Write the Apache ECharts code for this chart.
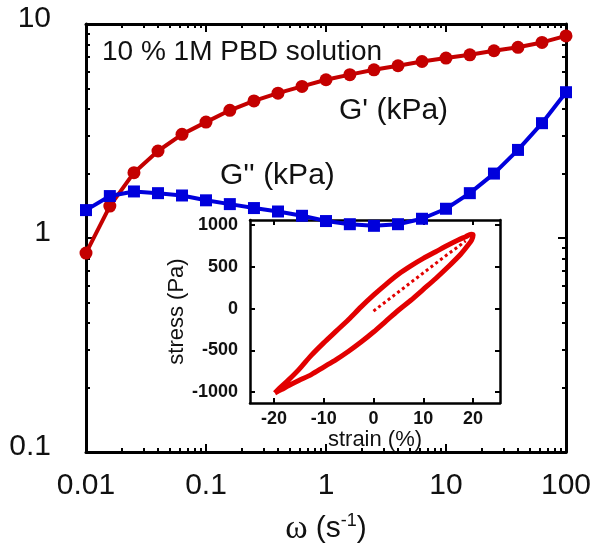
<!DOCTYPE html>
<html>
<head>
<meta charset="utf-8">
<script src="https://cdn.jsdelivr.net/npm/echarts@6/dist/echarts.min.js"></script>
<style>
  html, body { margin: 0; padding: 0; background: #fff; }
  #chart { width: 590px; height: 544px; }
</style>
</head>
<body>
<div id="chart"></div>
<script>
// frequency sweep, 5 points per decade
const omega = [0.01, 0.0158, 0.0251, 0.0398, 0.0631, 0.1, 0.158, 0.251, 0.398, 0.631,
  1, 1.58, 2.51, 3.98, 6.31, 10, 15.8, 25.1, 39.8, 63.1, 100]
const gPrime = [0.85, 1.41, 2.02, 2.55, 3.05, 3.48, 3.95, 4.37, 4.75, 5.11,
  5.49, 5.8, 6.11, 6.38, 6.68, 6.93, 7.18, 7.5, 7.78, 8.2, 8.8]
const gDouble = [1.35, 1.57, 1.65, 1.62, 1.58, 1.5, 1.44, 1.38, 1.33, 1.27,
  1.2, 1.16, 1.14, 1.16, 1.23, 1.37, 1.62, 2.0, 2.58, 3.44, 4.8]

const xMajor = [0.01, 0.1, 1, 10, 100]
const xMinor = [0.02, 0.03, 0.04, 0.05, 0.06, 0.07, 0.08, 0.09,
  0.2, 0.3, 0.4, 0.5, 0.6, 0.7, 0.8, 0.9,
  2, 3, 4, 5, 6, 7, 8, 9,
  20, 30, 40, 50, 60, 70, 80, 90]
const yMajor = [0.1, 1, 10]
const yMinor = [0.2, 0.3, 0.4, 0.5, 0.6, 0.7, 0.8, 0.9, 2, 3, 4, 5, 6, 7, 8, 9]

// inset: stress-strain loop (Lissajous)
const loopStrain = [-19.8, -19, -17, -15, -12.5, -10, -7.5, -5, -2.5, 0, 2.5, 5, 7.5, 10, 12.5, 15, 17, 18.5, 19.6, 20,
  19.7, 19, 17.5, 15, 12.5, 10, 7.5, 5, 2.5, 0, -2.5, -5, -7.5, -10, -12.5, -15, -17, -18.5, -19.8]
const loopStress = [-1010, -960, -850, -730, -560, -410, -270, -130, 20, 160, 290, 410, 510, 600, 680, 760, 820, 860, 890, 880,
  820, 760, 650, 500, 360, 230, 100, -20, -150, -280, -400, -510, -610, -700, -790, -860, -920, -970, -1010]
const startStrain = [0, 3, 6, 9, 12, 14.7, 17, 18.5]
const startStress = [-30, 107, 244, 381, 518, 641, 740, 810]
const strainTicks = [-20, -10, 0, 10, 20]
const stressTicks = [-1000, -500, 0, 500, 1000]

const font = 'Liberation Sans, Arial, sans-serif'
const red = '#c40000'
const blue = '#0000dc'
const loopRed = '#e20000'

const chart = echarts.init(document.getElementById('chart'), null, { renderer: 'canvas' })

const frame = { show: true, onZero: false, lineStyle: { color: '#000', width: 3 } }
const noLabel = { show: false }

const mainX = (pos, vals, len, showLine, label) => ({
  type: 'log', logBase: 10, gridIndex: 0, min: 0.01, max: 100, position: pos,
  axisLine: showLine ? frame : { show: false },
  axisTick: { show: true, inside: true, length: len, customValues: vals, lineStyle: { color: '#000', width: 2 } },
  axisLabel: label || noLabel,
  splitLine: { show: false },
  minorTick: { show: false },
})
const mainY = (pos, vals, len, showLine, label) => ({
  type: 'log', logBase: 10, gridIndex: 0, min: 0.1, max: 10, position: pos,
  axisLine: showLine ? frame : { show: false },
  axisTick: { show: true, inside: true, length: len, customValues: vals, lineStyle: { color: '#000', width: 2 } },
  axisLabel: label || noLabel,
  splitLine: { show: false },
  minorTick: { show: false },
})

const insetFrame = { show: true, onZero: false, lineStyle: { color: '#000', width: 2.5 } }
const insetTick = vals => ({ show: true, inside: true, length: 5, customValues: vals, lineStyle: { color: '#000', width: 2 } })

chart.setOption({
  animation: false,
  backgroundColor: '#fff',
  textStyle: { fontFamily: font },
  grid: [
    { left: 86, top: 24, width: 480, height: 428, outerBoundsMode: 'none' },
    { left: 250, top: 220, width: 250, height: 183, outerBoundsMode: 'none' },
  ],
  xAxis: [
    Object.assign(mainX('bottom', xMajor, 8, true, {
      show: true, customValues: xMajor, fontSize: 30, color: '#111', margin: 19,
      formatter: v => String(v),
    }), {
      name: '{w|ω} (s{sup|-1})',
      nameLocation: 'middle',
      nameGap: 60,
      nameTextStyle: {
        fontSize: 30, color: '#111',
        rich: {
          w: { fontFamily: 'Liberation Serif, serif', fontSize: 34, color: '#111' },
          sup: { fontSize: 18, color: '#111', verticalAlign: 'top', padding: [0, 0, 12, 0] },
        },
      },
    }),
    mainX('bottom', xMinor, 4, false),
    mainX('top', xMajor, 8, true),
    mainX('top', xMinor, 4, false),
    {
      type: 'value', gridIndex: 1, min: -24.8, max: 25.4, position: 'bottom',
      axisLine: insetFrame, axisTick: insetTick(strainTicks),
      axisLabel: {
        show: true, customValues: strainTicks, fontSize: 18, fontWeight: 'bold', color: '#111', margin: 7,
        formatter: v => String(v),
      },
      splitLine: { show: false },
      name: 'strain (%)', nameLocation: 'middle', nameGap: 26,
      nameTextStyle: { fontSize: 22, color: '#111' },
    },
    {
      type: 'value', gridIndex: 1, min: -24.8, max: 25.4, position: 'top',
      axisLine: insetFrame, axisTick: insetTick(strainTicks),
      axisLabel: noLabel, splitLine: { show: false },
    },
  ],
  yAxis: [
    mainY('left', yMajor, 8, true, {
      show: true, customValues: yMajor, fontSize: 30, color: '#111', margin: 35,
      verticalAlign: 'bottom', lineHeight: 10, formatter: v => String(v),
    }),
    mainY('left', yMinor, 4, false),
    mainY('right', yMajor, 8, true),
    mainY('right', yMinor, 4, false),
    {
      type: 'value', gridIndex: 1, min: -1130, max: 1060, position: 'left',
      axisLine: insetFrame, axisTick: insetTick(stressTicks),
      axisLabel: {
        show: true, customValues: stressTicks, fontSize: 18, fontWeight: 'bold', color: '#111', margin: 12,
        formatter: v => String(v),
      },
      splitLine: { show: false },
      name: 'stress (Pa)', nameLocation: 'middle', nameGap: 52, nameRotate: 90,
      nameTextStyle: { fontSize: 22, color: '#111' },
    },
    {
      type: 'value', gridIndex: 1, min: -1130, max: 1060, position: 'right',
      axisLine: insetFrame, axisTick: insetTick(stressTicks),
      axisLabel: noLabel, splitLine: { show: false },
    },
  ],
  graphic: [
    { type: 'text', left: 102, top: 38, style: { text: '10 % 1M PBD solution', font: '28px ' + font, fill: '#111' } },
    { type: 'text', left: 339, top: 96, style: { text: "G' (kPa)", font: '30px ' + font, fill: '#111' } },
    { type: 'text', left: 220, top: 161, style: { text: "G'' (kPa)", font: '30px ' + font, fill: '#111' } },
  ],
  series: [
    {
      name: 'loop', type: 'line', xAxisIndex: 4, yAxisIndex: 4,
      data: loopStrain.map((s, i) => [s, loopStress[i]]),
      showSymbol: false, smooth: 0.3, z: 1,
      lineStyle: { color: loopRed, width: 5 },
    },
    {
      name: 'start', type: 'line', xAxisIndex: 4, yAxisIndex: 4,
      data: startStrain.map((s, i) => [s, startStress[i]]),
      showSymbol: false, z: 1,
      lineStyle: { color: loopRed, width: 3, type: 'dotted' },
    },
    {
      name: "G'", type: 'line', xAxisIndex: 0, yAxisIndex: 0,
      data: omega.map((w, i) => [w, gPrime[i]]),
      symbol: 'circle', symbolSize: 13, z: 5,
      lineStyle: { color: red, width: 4 }, itemStyle: { color: red },
    },
    {
      name: "G''", type: 'line', xAxisIndex: 0, yAxisIndex: 0,
      data: omega.map((w, i) => [w, gDouble[i]]),
      symbol: 'rect', symbolSize: 12, z: 5,
      lineStyle: { color: blue, width: 4 }, itemStyle: { color: blue },
    },
  ],
})
</script>
</body>
</html>
